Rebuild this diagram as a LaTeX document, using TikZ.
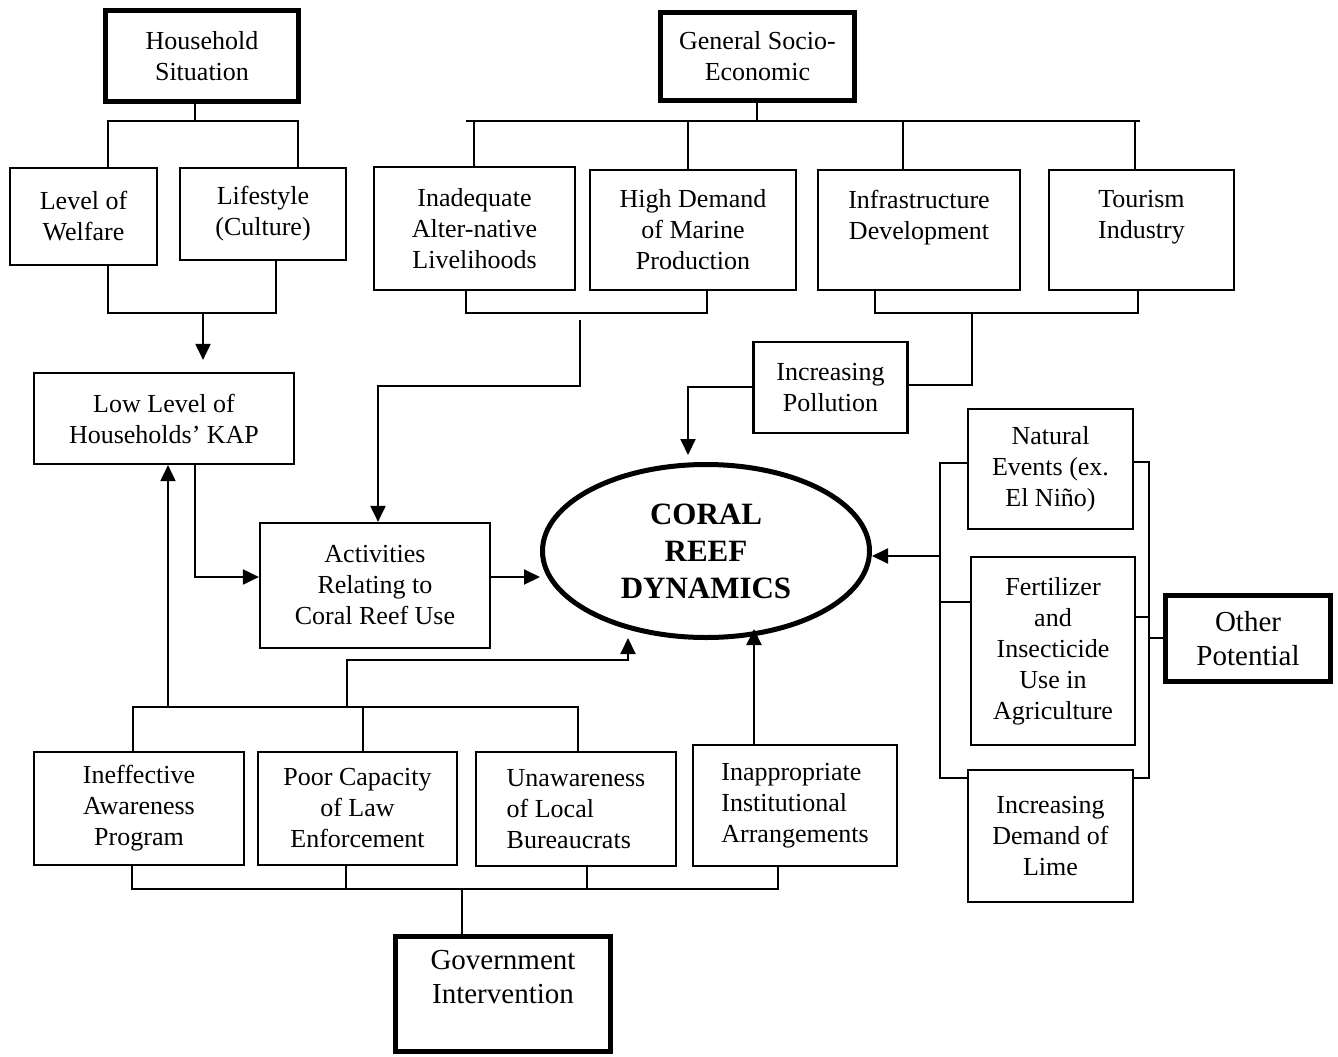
\documentclass[tikz,border=0pt]{standalone}
\usepackage{fontspec}
\setmainfont{Liberation Serif}
\usetikzlibrary{shapes.geometric,arrows.meta}
\begin{document}
\begin{tikzpicture}[x=1pt,y=-1pt,
 box/.style={draw, line width=2.2pt, inner sep=0pt, align=center, font=\fontsize{26}{31}\selectfont},
 thickbox/.style={box, line width=5pt},
 bigtext/.style={font=\fontsize{29}{34}\selectfont},
 ln/.style={line width=2pt},
 arr/.style={ln, -{Triangle[length=16pt,width=15pt]}},
]
\useasboundingbox (0,0) rectangle (1338,1057);
\fill[white] (0,0) rectangle (1338,1057);

% ---------- nodes ----------
\node[thickbox, minimum width=193pt, minimum height=91pt] (hs) at (202,56) {Household\\Situation};
\node[thickbox, minimum width=194pt, minimum height=88pt] (gse) at (757.5,56.5) {General Socio-\\Economic};
\node[box, minimum width=147pt, minimum height=97pt] (lw) at (83.5,216.5) {Level of\\Welfare};
\node[box, minimum width=166pt, minimum height=92pt] (ls) at (263,214) {Lifestyle\\(Culture)};
\node[box, minimum width=260pt, minimum height=91pt] (kap) at (164,418.5) {Low Level of\\Households’ KAP};
\node[box, minimum width=201pt, minimum height=123pt] (ia) at (474.5,228.5) {Inadequate\\Alter-native\\Livelihoods};
\node[box, minimum width=206pt, minimum height=120pt] (hd) at (693,230) {High Demand\\of Marine\\Production};
\node[box, minimum width=202pt, minimum height=120pt] (id) at (919,230) {Infrastructure\\Development\\\mbox{}};
\node[box, minimum width=185pt, minimum height=120pt] (ti) at (1141.5,230) {Tourism\\Industry\\\mbox{}};
\node[box, minimum width=154pt, minimum height=91pt] (ip) at (830.5,387.5) {Increasing\\Pollution};
\node[box, minimum width=230pt, minimum height=125pt] (act) at (375,585.5) {Activities\\Relating to\\Coral Reef Use};
\node[draw, ellipse, line width=5pt, minimum width=327pt, minimum height=173pt, inner sep=0pt, align=center,
      font=\bfseries\fontsize{31}{37}\selectfont] (crd) at (706,551) {CORAL\\REEF\\DYNAMICS};
\node[box, minimum width=165pt, minimum height=120pt] (ne) at (1050.5,469) {Natural\\Events (ex.\\El Niño)};
\node[box, minimum width=164pt, minimum height=188pt] (fi) at (1053,651) {Fertilizer\\and\\Insecticide\\Use in\\Agriculture};
\node[box, minimum width=165pt, minimum height=132pt] (lime) at (1050.5,836) {Increasing\\Demand of\\Lime};
\node[thickbox, bigtext, minimum width=165pt, minimum height=86pt] (op) at (1248,638.5) {Other\\Potential};
\node[box, minimum width=210pt, minimum height=113pt] (iap) at (139,808.5) {Ineffective\\Awareness\\Program};
\node[box, minimum width=199pt, minimum height=113pt] (pcl) at (357.5,808.5) {Poor Capacity\\of Law\\Enforcement};
\node[box, align=left, minimum width=200pt, minimum height=114pt] (ulb) at (576,809) {Unawareness\\of Local\\Bureaucrats};
\node[box, align=left, minimum width=204pt, minimum height=121pt] (iia) at (795,805.5) {Inappropriate\\Institutional\\Arrangements};
\node[thickbox, bigtext, minimum width=215pt, minimum height=115pt] (gi) at (503,994) {Government\\Intervention\\\mbox{}};

% ---------- household branch ----------
\coordinate (hsj) at (195,121);
\coordinate (hsL) at (108,121);
\coordinate (hsR) at (298,121);
\draw[ln] (hs.south -| hsj) -- (hsj);
\draw[ln] (lw.north -| hsL) -- (hsL) -- (hsR) -- (ls.north -| hsR);
\coordinate (wl1) at (108,313);
\coordinate (wl2) at (276,313);
\coordinate (wl3) at (203,313);
\draw[ln] (lw.south -| wl1) -- (wl1) -- (wl2) -- (ls.south -| wl2);
\draw[arr, shorten >=12pt] (wl3) -- (kap.north -| wl3);

% ---------- socio-economic branch ----------
\coordinate (gj) at (757,121);
\coordinate (gL) at (466,121);
\coordinate (gR) at (1140,121);
\coordinate (g1) at (474,121);
\coordinate (g2) at (688,121);
\coordinate (g3) at (903,121);
\coordinate (g4) at (1135,121);
\draw[ln] (gse.south -| gj) -- (gj);
\draw[ln] (gL) -- (gR);
\draw[ln] (g1) -- (ia.north -| g1);
\draw[ln] (g2) -- (hd.north -| g2);
\draw[ln] (g3) -- (id.north -| g3);
\draw[ln] (g4) -- (ti.north -| g4);

\coordinate (m1) at (466,313);
\coordinate (m2) at (707,313);
\coordinate (m3) at (580,320);
\coordinate (m4) at (580,386);
\coordinate (m5) at (378,386);
\draw[ln] (ia.south -| m1) -- (m1) -- (m2) -- (hd.south -| m2);
\draw[arr] (m3) -- (m4) -- (m5) -- (act.north -| m5);

\coordinate (n1) at (875,313);
\coordinate (n2) at (1138,313);
\coordinate (n3) at (972,313);
\coordinate (n4) at (972,385);
\draw[ln] (id.south -| n1) -- (n1) -- (n2) -- (ti.south -| n2);
\draw[ln] (n3) -- (n4) -- (ip.east |- n4);
\coordinate (p1) at (688,387);
\coordinate (p2) at (688,455);
\draw[arr] (ip.west |- p1) -- (p1) -- (p2);

% ---------- KAP / activities ----------
\coordinate (k1) at (195,577);
\draw[arr] (kap.south -| k1) -- (k1) -- (act.west |- k1);
\draw[arr] (act.east |- k1) -- (crd.west |- k1);

% ---------- other potential ----------
\coordinate (r0) at (940,556);
\coordinate (r1) at (940,463);
\coordinate (r2) at (940,602);
\coordinate (r3) at (940,778);
\draw[ln] (ne.west |- r1) -- (r1) -- (r3) -- (lime.west |- r3);
\draw[ln] (r2) -- (fi.west |- r2);
\draw[arr] (r0) -- (crd.east |- r0);
\coordinate (s1) at (1149,462);
\coordinate (s2) at (1149,617);
\coordinate (s3) at (1149,778);
\coordinate (s4) at (1149,638);
\draw[ln] (ne.east |- s1) -- (s1) -- (s3) -- (lime.east |- s3);
\draw[ln] (fi.east |- s2) -- (s2);
\draw[ln] (s4) -- (op.west |- s4);

% ---------- government branch ----------
\coordinate (t1) at (133,707);
\coordinate (t2) at (363,707);
\coordinate (t3) at (578,707);
\coordinate (t4) at (168,707);
\coordinate (t5) at (347,707);
\coordinate (t6) at (347,660);
\coordinate (t7) at (628,660);
\coordinate (t8) at (628,638);
\draw[ln] (iap.north -| t1) -- (t1) -- (t3) -- (ulb.north -| t3);
\draw[ln] (t2) -- (pcl.north -| t2);
\draw[arr] (t4) -- (kap.south -| t4);
\draw[arr] (t5) -- (t6) -- (t7) -- (t8);
\coordinate (u1) at (754,629);
\draw[arr] (iia.north -| u1) -- (u1);

\coordinate (v1) at (132,889);
\coordinate (v2) at (346,889);
\coordinate (v3) at (587,889);
\coordinate (v4) at (778,889);
\coordinate (v5) at (462,889);
\draw[ln] (iap.south -| v1) -- (v1) -- (v4) -- (iia.south -| v4);
\draw[ln] (pcl.south -| v2) -- (v2);
\draw[ln] (ulb.south -| v3) -- (v3);
\draw[ln] (v5) -- (gi.north -| v5);
\end{tikzpicture}
\end{document}
